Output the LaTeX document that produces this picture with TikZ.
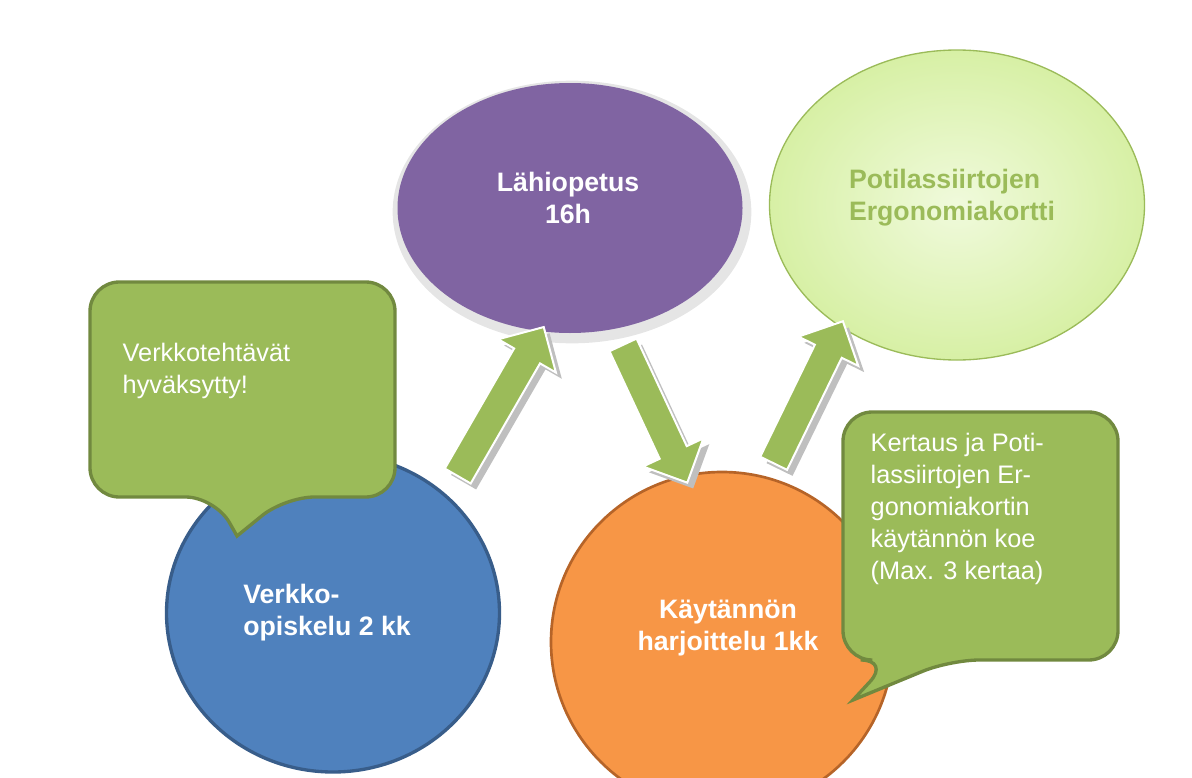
\documentclass[tikz,border=0pt]{standalone}
\usepackage{fontspec}
\setmainfont{Liberation Sans}
\usetikzlibrary{shapes.arrows,shapes.geometric}
\definecolor{gfill}{HTML}{9BBB59}
\definecolor{gline}{HTML}{71893F}
\begin{document}
\begin{tikzpicture}[x=0.75pt,y=-0.75pt,
  ctext/.style={text=white,font=\bfseries\fontsize{20}{24}\selectfont,align=center},
  btext/.style={text=white,font=\fontsize{19}{24}\selectfont,align=left},
  barrow/.style={single arrow,fill=gfill,draw=white,line width=1.5pt,minimum width=50pt,single arrow head extend=12pt,inner sep=9pt,anchor=center},
  bshadow/.style={single arrow,fill=black!25,minimum width=50pt,single arrow head extend=12pt,inner sep=9pt,anchor=center}]
\useasboundingbox (0,0) rectangle (1192,778);
% circles
\node[ellipse,draw=white!80!gray,line width=5pt,fill=black!10,minimum width=352*0.75pt,minimum height=256*0.75pt] (pshad) at (572,212) {};
\node[ellipse,fill={rgb,255:red,128;green,100;blue,162},minimum width=345*0.75pt,minimum height=250*0.75pt] (lahi) at (570,208) {};
\node[ellipse,draw=gfill,line width=1pt,inner color={rgb,255:red,240;green,250;blue,220},outer color={rgb,255:red,215;green,240;blue,165},minimum width=375*0.75pt,minimum height=310*0.75pt] (ergo) at (957,205) {};
\node[ellipse,fill={rgb,255:red,79;green,129;blue,189},draw={rgb,255:red,56;green,93;blue,138},line width=2.5pt,minimum width=333*0.75pt,minimum height=318*0.75pt] (verkko) at (333,613) {};
\node[ellipse,fill={rgb,255:red,247;green,150;blue,70},draw={rgb,255:red,182;green,100;blue,40},line width=2pt,minimum width=342*0.75pt,minimum height=340*0.75pt] (kayt) at (722,642) {};
% arrows
\node[bshadow,minimum height=172*0.75pt,rotate=60] (s1) at (503,414) {};
\node[barrow,minimum height=172*0.75pt,rotate=60] (a1) at (497,408) {};
\node[bshadow,minimum height=152*0.75pt,rotate=-65] (s2) at (658,413) {};
\node[barrow,minimum height=152*0.75pt,rotate=-65] (a2) at (652,407) {};
\node[bshadow,minimum height=158*0.75pt,rotate=64] (s3) at (811,405) {};
\node[barrow,minimum height=158*0.75pt,rotate=64] (a3) at (805,399) {};
% texts
\node[ctext] (t1) at (568,198) {Lähiopetus\\16h};
\node[ctext,text=gfill,align=left] (t2) at (952,198) {Potilassiirtojen\\Ergonomiakortti};
\node[ctext,align=left] (t3) at (327,613) {Verkko-\\opiskelu 2 kk};
\node[ctext] (t4) at (728,628) {Käytännön\\harjoittelu 1kk};
% bubbles
\draw[fill=gfill,draw=gline,line width=2.5pt,rounded corners=22pt]
  (90,282) -- (395,282) -- (395,497) -- (285,497) [sharp corners]-- (237,536) [rounded corners=22pt]-- (215,497) -- (90,497) -- cycle;
\draw[fill=gfill,draw=gline,line width=2.5pt,rounded corners=22pt]
  (843,412) -- (1118,412) -- (1118,660) -- (950,660) [sharp corners]-- (853,700) [rounded corners=22pt]-- (890,660) -- (843,660) -- cycle;
\node[btext,anchor=north west] (b1) at (118,338) {Verkkotehtävät\\hyväksytty!};
\node[btext,anchor=north west] (b2) at (866,428) {Kertaus ja Poti-\\lassiirtojen Er-\\gonomiakortin\\käytännön koe\\(Max. 3 kertaa)};
\end{tikzpicture}
\end{document}
